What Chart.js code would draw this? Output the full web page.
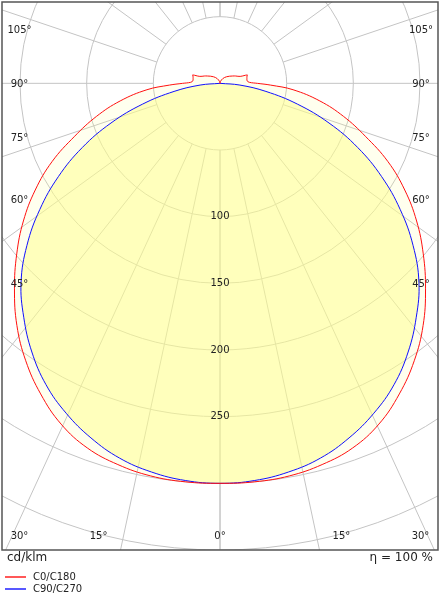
<!DOCTYPE html>
<html>
<head>
<meta charset="utf-8">
<script src="https://cdn.jsdelivr.net/npm/chart.js@4.4.0/dist/chart.umd.min.js"></script>
<style>
  body { margin: 0; background: #fff; font-family: "DejaVu Sans", Verdana, sans-serif; }
  #marco { position: relative; width: 440px; height: 600px; }
  #grafica { position: absolute; left: 0; top: 0; }
  .txt { position: absolute; font-size: 12px; color: #222; white-space: nowrap; line-height: 14px; }
  .ley { position: absolute; left: 33px; font-size: 10px; color: #222; line-height: 12px; white-space: nowrap; }
</style>
</head>
<body>
<div id="marco">
  <canvas id="grafica" width="440" height="600"></canvas>
  <div class="txt" style="left:7px; top:550px;">cd/klm</div>
  <div class="txt" style="right:7px; top:550px;">η = 100 %</div>
  <div class="ley" style="top:571px;">C0/C180</div>
  <div class="ley" style="top:583px;">C90/C270</div>
</div>
<script>
// curvas fotométricas (cd/klm) por ángulo gamma
const angulosC0 = [0, 5, 10, 15, 20, 25, 30, 35, 40, 45, 50, 55, 60, 65, 70, 75, 80, 85, 88, 90, 92, 95, 100, 105, 107, 109, 115, 120, 135, 150, 165, 180];
const valoresC0 = [300, 300, 299, 296, 291, 282, 269, 254, 237, 218, 199, 180, 160, 139, 116, 96, 76, 55, 38, 28, 22, 20.5, 20.5, 21, 21.5, 16, 13, 11, 7, 4, 1.5, 0];
const angulosC90 = [0, 5, 10, 15, 20, 25, 30, 35, 40, 45, 50, 55, 60, 65, 70, 75, 80, 85, 90];
const valoresC90 = [300, 299, 296, 291, 283, 273, 261, 246, 229, 211, 189, 165, 140, 114, 87, 60, 35, 15, 0];

// rejilla
const radiosRejilla = [50, 100, 150, 200, 250, 300, 350, 400];
const etiquetasRadio = [100, 150, 200, 250];
const angulosRejilla = [0, 15, 30, 45, 60, 75, 90, 105, 120, 135, 150, 165, 180];
const etiquetasLado = [45, 60, 75, 90, 105];
const etiquetasAbajo = [0, 15, 30];

const series = [
    {nombre: 'C0/C180', color: '#ff1010'},
    {nombre: 'C90/C270', color: '#1010ff'}
];

const grafica = document.getElementById('grafica');

// pasar (gamma, I) a puntos x/y, los dos semiplanos C0|C180 o C90|C270
function curva(angulos, valores) {
    let puntos = [];
    for (let i = angulos.length - 1; i >= 0; i--) {
        let a = angulos[i] * Math.PI / 180;
        puntos.push({x: -valores[i] * Math.sin(a), y: -valores[i] * Math.cos(a)});
    }
    for (let i = 1; i < angulos.length; i++) {
        let a = angulos[i] * Math.PI / 180;
        puntos.push({x: valores[i] * Math.sin(a), y: -valores[i] * Math.cos(a)});
    }
    return puntos;
}

function rellenar(chart, indice, color) {
    const ctx = chart.ctx;
    const linea = chart.getDatasetMeta(indice).dataset;
    linea.updateControlPoints(chart.chartArea, 'x');
    ctx.beginPath();
    linea.path(ctx);
    ctx.closePath();
    ctx.fillStyle = color;
    ctx.fill();
}

const rejillaPolar = {
    id: 'rejillaPolar',
    beforeDatasetsDraw(chart) {
        const ctx = chart.ctx;
        const area = chart.chartArea;
        const sx = chart.scales.x, sy = chart.scales.y;
        const cx = sx.getPixelForValue(0), cy = sy.getPixelForValue(0);
        const k = sx.getPixelForValue(1) - cx;
        // las rayas angulares van estiradas con la proporción del marco
        const prop = (area.bottom - area.top) / (area.right - area.left);
        ctx.save();
        ctx.beginPath();
        ctx.rect(area.left, area.top, area.right - area.left, area.bottom - area.top);
        ctx.clip();
        ctx.strokeStyle = '#c4c4c4';
        ctx.lineWidth = 1;
        radiosRejilla.forEach(function(r) {
            ctx.beginPath();
            ctx.arc(cx, cy, r * k, 0, Math.PI * 2);
            ctx.stroke();
        });
        angulosRejilla.forEach(function(g) {
            [-1, 1].forEach(function(lado) {
                const a = g * Math.PI / 180;
                let dx = Math.sin(a), dy = prop * Math.cos(a);
                const n = Math.hypot(dx, dy);
                dx = lado * dx / n;
                dy = dy / n;
                ctx.beginPath();
                ctx.moveTo(cx + 50 * k * dx, cy + 50 * k * dy);
                ctx.lineTo(cx + 900 * k * dx, cy + 900 * k * dy);
                ctx.stroke();
            });
        });
        // relleno amarillo
        rellenar(chart, 0, 'rgba(255, 255, 140, 0.15)');
        rellenar(chart, 1, 'rgba(255, 255, 140, 0.5)');
        ctx.restore();
    },
    afterDatasetsDraw(chart) {
        const ctx = chart.ctx;
        const area = chart.chartArea;
        const sx = chart.scales.x, sy = chart.scales.y;
        const cx = sx.getPixelForValue(0), cy = sy.getPixelForValue(0);
        ctx.save();
        ctx.fillStyle = '#222';
        ctx.font = '10px "DejaVu Sans", Verdana, sans-serif';
        ctx.textAlign = 'center';
        ctx.textBaseline = 'middle';
        etiquetasRadio.forEach(function(v) {
            ctx.fillText(String(v), cx, sy.getPixelForValue(-v));
        });
        const xl = area.left + 17.5, xr = area.right - 17;
        etiquetasLado.forEach(function(g) {
            const a = g * Math.PI / 180;
            const y = cy + (cx - xl) / Math.tan(a);
            ctx.fillText(g + '°', xl, y + 1);
            ctx.fillText(g + '°', xr, y + 1);
        });
        const yb = area.bottom - 13.5;
        etiquetasAbajo.forEach(function(g) {
            const a = g * Math.PI / 180;
            let d = Math.min((yb - cy) * Math.tan(a), cx - xl);
            ctx.fillText(g + '°', cx - d, yb);
            if (g > 0) ctx.fillText(g + '°', cx + d, yb);
        });
        ctx.strokeStyle = '#555';
        ctx.lineWidth = 1.5;
        ctx.strokeRect(area.left, area.top, area.right - area.left, area.bottom - area.top);
        // rayas de la leyenda
        ctx.lineWidth = 1.4;
        series.forEach(function(s, i) {
            const y = area.bottom + 27 + i * 12;
            ctx.strokeStyle = s.color;
            ctx.beginPath();
            ctx.moveTo(5, y);
            ctx.lineTo(26, y);
            ctx.stroke();
        });
        ctx.restore();
    }
};

const datos = {
    datasets: [
        {
            label: series[0].nombre,
            data: curva(angulosC0, valoresC0),
            borderColor: series[0].color,
            borderWidth: 1,
            showLine: true,
            tension: 0.4,
            pointRadius: 0,
            fill: false
        },
        {
            label: series[1].nombre,
            data: curva(angulosC90, valoresC90),
            borderColor: series[1].color,
            borderWidth: 1,
            showLine: true,
            tension: 0.4,
            pointRadius: 0,
            fill: false
        }
    ]
};

const configuracion = {
    type: 'scatter',
    data: datos,
    options: {
        responsive: false,
        animation: false,
        devicePixelRatio: 1,
        layout: {padding: {left: 2, right: 2, top: 2, bottom: 50}},
        plugins: {legend: {display: false}, tooltip: {enabled: false}},
        scales: {
            x: {type: 'linear', display: false, min: -163.5, max: 163.5},
            y: {type: 'linear', display: false, min: -350, max: 61}
        }
    },
    plugins: [rejillaPolar]
};

new Chart(grafica, configuracion);
</script>
</body>
</html>
